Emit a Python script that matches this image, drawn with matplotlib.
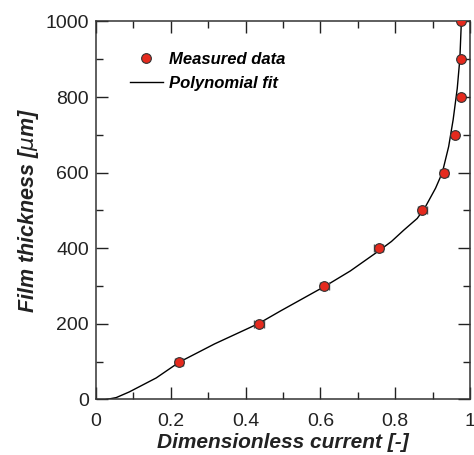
import numpy as np
import matplotlib.pyplot as plt
from matplotlib.ticker import MultipleLocator

plt.rcParams['font.family'] = ['Liberation Sans', 'DejaVu Sans']

# measured points
meas_x = [0.222, 0.435, 0.611, 0.756, 0.873, 0.931, 0.960, 0.975, 0.975, 0.976]
meas_y = [100, 200, 300, 400, 500, 600, 700, 800, 900, 1000]
meas_xerr = [0.012, 0.013, 0.013, 0.012, 0.011, 0.010, 0.0, 0.0, 0.0, 0.0]

# polynomial fit curve
fit_x = [0.027, 0.054, 0.089, 0.161, 0.223, 0.317, 0.435, 0.493, 0.613, 0.680,
         0.756, 0.790, 0.823, 0.859, 0.881, 0.908, 0.926, 0.943, 0.955, 0.966,
         0.973, 0.977]
fit_y = [0, 5, 20, 57, 99, 147, 201, 234, 300, 340,
         393, 418, 448, 479, 510, 559, 600, 669, 740, 823,
         902, 1000]

xtick_vals = [0, 0.2, 0.4, 0.6, 0.8, 1.0]
xtick_labels = ['0', '0.2', '0.4', '0.6', '0.8', '1']

fig = plt.figure(figsize=(4.74, 4.55), dpi=100)
ax = fig.add_axes([0.2025, 0.122, 0.789, 0.8308])

ax.plot(fit_x, fit_y, color='black', lw=1.0, label='Polynomial fit', zorder=2)
ax.errorbar(meas_x, meas_y, xerr=meas_xerr, fmt='none', ecolor='#555555',
            elinewidth=1.0, capsize=3, capthick=1.0, zorder=3)
ax.plot(meas_x, meas_y, 'o', ms=7, mfc='#e52a1e', mec='#333333', mew=0.8,
        ls='none', label='Measured data', zorder=4)

ax.set_xlim(0, 1)
ax.set_ylim(0, 1000)
ax.set_xticks(xtick_vals)
ax.set_xticklabels(xtick_labels)
ax.xaxis.set_minor_locator(MultipleLocator(0.1))
ax.yaxis.set_major_locator(MultipleLocator(200))
ax.yaxis.set_minor_locator(MultipleLocator(100))
ax.tick_params(which='both', direction='in', top=True, right=True,
               colors='#222222', width=1.0, labelsize=14, labelcolor='#222222')
ax.tick_params(which='major', length=8.5, pad=5)
ax.tick_params(which='minor', length=5)
ax.tick_params(axis='x', which='major', pad=10)
for s in ax.spines.values():
    s.set_linewidth(1.1)
    s.set_color('#333333')

ax.set_xlabel('Dimensionless current [-]', fontsize=15, fontweight='bold',
              fontstyle='italic', color='#222222', labelpad=2)
ax.set_ylabel(r'Film thickness [$\mu$m]', fontsize=15.5, fontweight='bold',
              fontstyle='italic', color='#222222', labelpad=3)

h, l = ax.get_legend_handles_labels()
leg = ax.legend(h[::-1], l[::-1], loc='upper left', bbox_to_anchor=(0.05, 0.96),
                frameon=False, handlelength=2.0, handletextpad=0.35,
                labelspacing=0.55,
                prop={'weight': 'bold', 'style': 'italic', 'size': 12})

fig.savefig('out.png', dpi=100)
